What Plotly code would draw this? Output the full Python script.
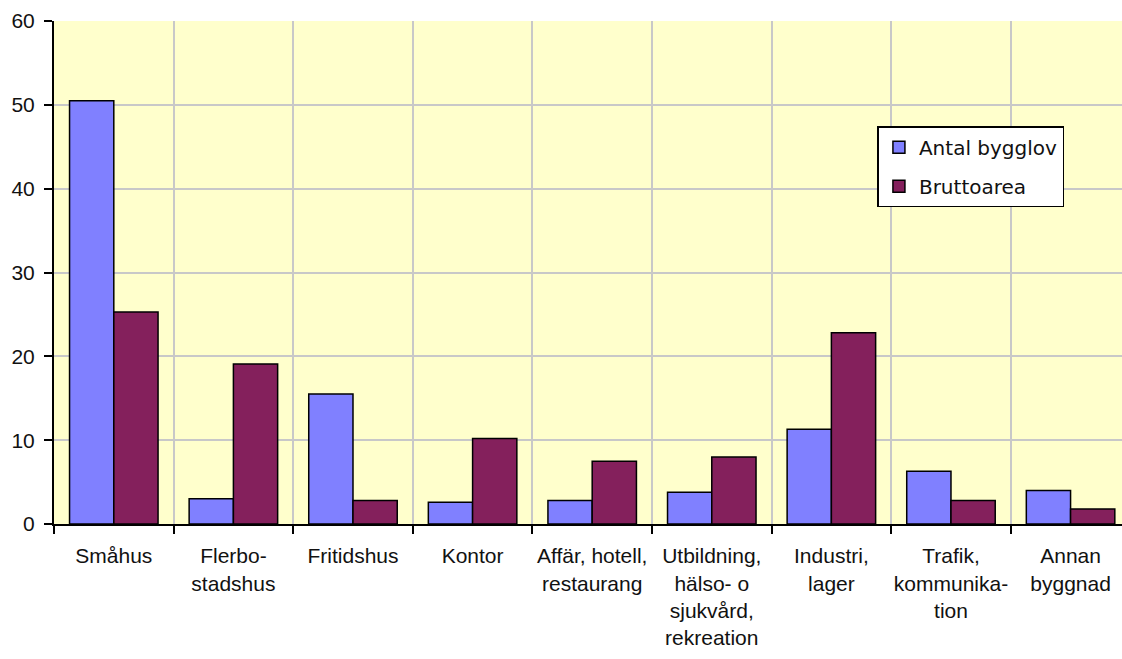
import plotly.graph_objects as go

categories = ["Småhus", "Flerbo-<br>stadshus", "Fritidshus", "Kontor",
              "Affär, hotell,<br>restaurang",
              "Utbildning,<br>hälso- o<br>sjukvård,<br>rekreation",
              "Industri,<br>lager", "Trafik,<br>kommunika-<br>tion", "Annan<br>byggnad"]
antal_bygglov = [50.5, 3.0, 15.5, 2.6, 2.8, 3.8, 11.3, 6.3, 4.0]
bruttoarea = [25.3, 19.1, 2.8, 10.2, 7.5, 8.0, 22.8, 2.8, 1.8]
y_ticks = [0, 10, 20, 30, 40, 50, 60]

xpos = list(range(len(categories)))
font = dict(family="Liberation Sans, Arial, sans-serif", size=21, color="#111111")

fig = go.Figure()
fig.add_trace(go.Bar(x=xpos, y=antal_bygglov, name="Antal bygglov", legendgroup="a",
                     marker=dict(color="#8080FF", line=dict(color="#000000", width=1.5))))
fig.add_trace(go.Bar(x=xpos, y=bruttoarea, name="Bruttoarea", legendgroup="b",
                     marker=dict(color="#84205C", line=dict(color="#000000", width=1.5))))

fig.update_layout(
    width=1122, height=659,
    margin=dict(l=54, r=0, t=21, b=135),
    paper_bgcolor="#FFFFFF", plot_bgcolor="#FFFFCC",
    barmode="group", bargap=0.26, bargroupgap=0,
    font=font,
    showlegend=True,
    legend=dict(x=0.771, y=0.791, xanchor="left", yanchor="top",
                bgcolor="#FFFFFF", bordercolor="#000000", borderwidth=1.5,
                font=dict(family="DejaVu Sans, sans-serif", size=20, color="#111111"),
                tracegroupgap=10),
)
fig.update_xaxes(
    range=[-0.5, 8.43],
    tickmode="array", tickvals=xpos, ticktext=categories,
    ticks="", showgrid=False, ticklabelstandoff=12,
    showline=True, linecolor="#000000", linewidth=2,
    minor=dict(tickmode="linear", tick0=0.5, dtick=1, showgrid=True,
               gridcolor="#C8C8C8", gridwidth=2,
               ticks="outside", ticklen=8, tickcolor="#000000", tickwidth=2),
    tickfont=font, zeroline=False,
)
fig.update_yaxes(
    range=[0, 60], tickmode="array", tickvals=y_ticks,
    showgrid=True, gridcolor="#C8C8C8", gridwidth=2,
    showline=True, linecolor="#000000", linewidth=2,
    ticks="outside", ticklen=8, tickcolor="#000000", tickwidth=2,
    ticklabelstandoff=5,
    tickfont=font, zeroline=False,
)

fig.write_html("out.html")
